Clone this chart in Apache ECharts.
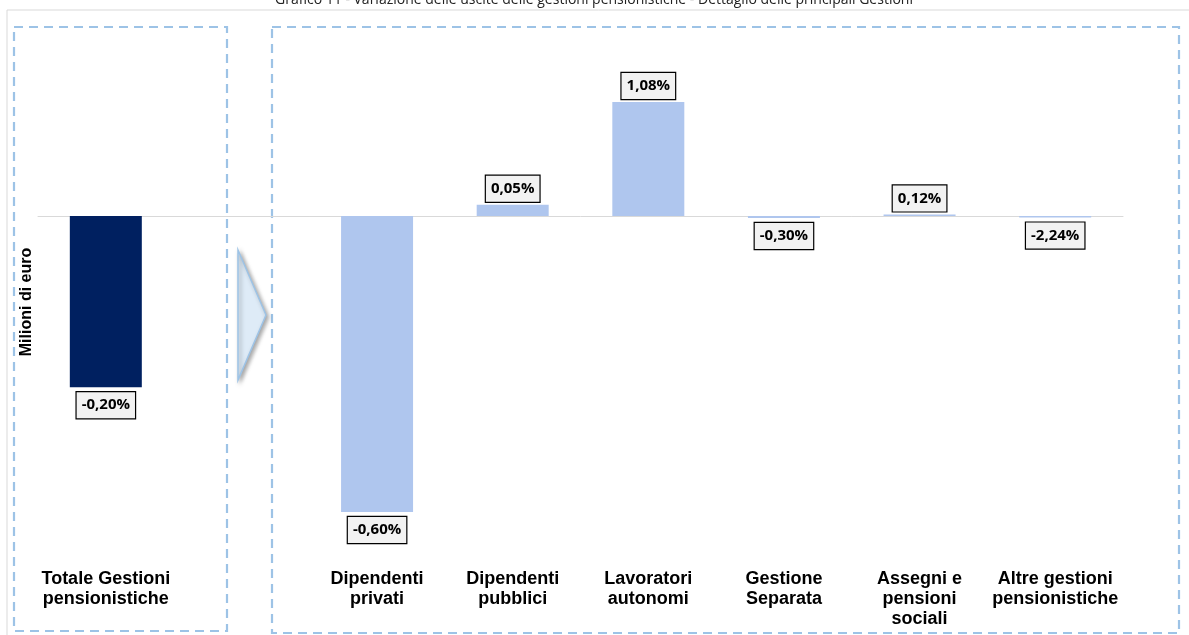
<!DOCTYPE html>
<html>
<head>
<meta charset="utf-8">
<script src="https://cdn.jsdelivr.net/npm/echarts@6/dist/echarts.min.js"></script>
<style>
  html, body { margin: 0; padding: 0; background: #fff; }
  #main { width: 1189px; height: 635px; }
</style>
</head>
<body>
<div id="main"></div>
<script type="text/javascript">
  // categorie (la seconda è lo spazio vuoto della freccia)
  var categorie = ['Totale Gestioni\npensionistiche', '', 'Dipendenti\nprivati', 'Dipendenti\npubblici',
    'Lavoratori\nautonomi', 'Gestione\nSeparata', 'Assegni e\npensioni\nsociali', 'Altre gestioni\npensionistiche'];
  // variazioni in milioni di euro (stimate dal grafico)
  var variazioni = [-428, null, -740, 28, 285, -5, 4, -4];
  // etichette percentuali
  var etichette = ['-0,20%', '', '-0,60%', '0,05%', '1,08%', '-0,30%', '0,12%', '-2,24%'];

  var myChart = echarts.init(document.getElementById('main'));

  var dati = variazioni.map(function (v, i) {
    if (v === null) return '-';
    return {
      value: v,
      itemStyle: { color: i === 0 ? '#002060' : '#afc6ee' },
      label: {
        position: v >= 0 ? 'top' : 'bottom',
        distance: v >= 0 ? 3 : 5
      }
    };
  });

  var option = {
    animation: false,
    grid: { left: 38, right: 66, top: 16, bottom: 69 },
    xAxis: [
      {
        type: 'category',
        data: categorie,
        axisLine: { onZero: true, lineStyle: { color: '#d9d9d9', width: 1 } },
        axisTick: { show: false },
        axisLabel: { show: false }
      },
      {
        type: 'category',
        data: categorie,
        position: 'bottom',
        axisLine: { show: false, onZero: false },
        axisTick: { show: false },
        axisLabel: {
          interval: 0,
          margin: 3,
          verticalAlign: 'top',
          color: '#000',
          fontFamily: 'Liberation Sans, Arial, sans-serif',
          fontWeight: 'bold',
          fontSize: 18,
          lineHeight: 20
        }
      }
    ],
    yAxis: {
      type: 'value',
      min: -875,
      max: 500,
      show: false
    },
    series: [
      {
        type: 'bar',
        xAxisIndex: 0,
        barWidth: 72,
        data: dati,
        label: {
          show: true,
          formatter: function (p) { return etichette[p.dataIndex]; },
          color: '#000',
          fontFamily: 'Open Sans, sans-serif',
          fontWeight: 'bold',
          fontSize: 15,
          lineHeight: 18,
          backgroundColor: '#f2f2f2',
          borderColor: '#000',
          borderWidth: 1.2,
          padding: [4, 5]
        }
      }
    ],
    graphic: [
      // titolo (tagliato in alto)
      {
        type: 'text', x: 594, y: 0,
        style: {
          text: 'Grafico 11 - Variazione delle uscite delle gestioni pensionistiche - Dettaglio delle principali Gestioni',
          fill: '#222', font: '14px "Open Sans", sans-serif', align: 'center', verticalAlign: 'middle'
        }
      },
      // bordo esterno
      {
        type: 'rect', shape: { x: 7, y: 10, width: 1200, height: 640 },
        style: { fill: 'none', stroke: '#d9d9d9', lineWidth: 1 }, silent: true
      },
      // riquadri tratteggiati
      {
        type: 'rect', shape: { x: 14, y: 27, width: 213, height: 604 },
        style: { fill: 'none', stroke: '#9dc3e6', lineWidth: 2.2, lineDash: [9, 6] }, silent: true
      },
      {
        type: 'rect', shape: { x: 272, y: 27, width: 907, height: 606 },
        style: { fill: 'none', stroke: '#9dc3e6', lineWidth: 2.2, lineDash: [9, 6] }, silent: true
      },
      // freccia
      {
        type: 'polygon', shape: { points: [[238, 250], [266, 315], [238, 380]] },
        style: {
          fill: '#deebf7', stroke: '#9dc3e6', lineWidth: 1.5,
          shadowBlur: 4, shadowColor: 'rgba(0,0,0,0.35)', shadowOffsetX: 2, shadowOffsetY: 2
        }
      },
      // titolo asse y
      {
        type: 'text', x: 27, y: 302, rotation: Math.PI / 2,
        style: {
          text: 'Milioni di euro', fill: '#000',
          font: 'bold 16px "Liberation Sans", Arial, sans-serif', align: 'center', verticalAlign: 'middle'
        }
      }
    ]
  };

  myChart.setOption(option);
</script>
</body>
</html>
